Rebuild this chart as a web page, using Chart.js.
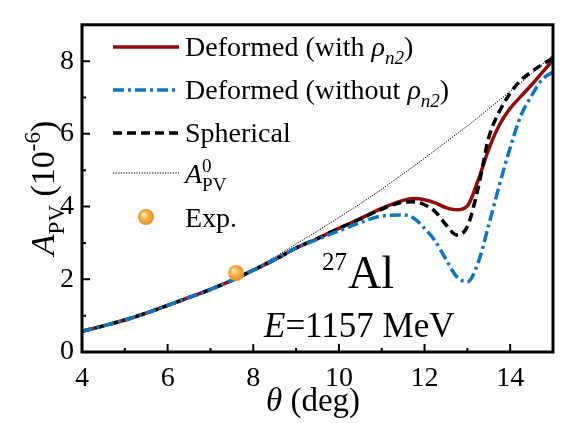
<!DOCTYPE html>
<html>
<head>
<meta charset="utf-8">
<script src="https://cdn.jsdelivr.net/npm/chart.js@4.4.1/dist/chart.umd.min.js"></script>
<style>
  html, body { margin: 0; padding: 0; background: #fff; }
  #wrap { width: 564px; height: 423px; }
</style>
</head>
<body>
<div id="wrap"><canvas id="apv" width="564" height="423"></canvas></div>
<script>
// values
const theta = [4, 4.5, 5, 5.5, 6, 6.5, 7, 7.5, 8, 8.5, 9, 9.5, 10, 10.5, 11, 11.5, 11.75,
  12, 12.25, 12.5, 12.75, 13, 13.25, 13.5, 13.75, 14, 14.25, 14.5, 14.75, 15];
const deformedWith = [0.57, 0.72, 0.88, 1.07, 1.28, 1.50, 1.72, 1.97, 2.25, 2.54, 2.86, 3.12,
  3.40, 3.67, 3.95, 4.17, 4.22, 4.19, 4.10, 3.97, 3.91, 4.02, 4.72, 5.58, 6.25, 6.70, 7.03, 7.35, 7.69, 8.03];
const deformedWithout = [0.57, 0.72, 0.88, 1.07, 1.28, 1.50, 1.72, 1.97, 2.25, 2.54, 2.86, 3.10,
  3.33, 3.56, 3.74, 3.77, 3.68, 3.40, 3.05, 2.55, 2.07, 1.93, 2.45, 3.50, 4.60, 5.62, 6.50, 7.05, 7.50, 7.70];
const spherical = [0.57, 0.72, 0.88, 1.07, 1.28, 1.50, 1.72, 1.97, 2.25, 2.54, 2.86, 3.12,
  3.40, 3.66, 3.93, 4.12, 4.13, 4.05, 3.86, 3.50, 3.22, 3.45, 4.50, 5.90, 6.62, 7.12, 7.48, 7.71, 7.91, 8.08];
const apv0 = [0.57, 0.72, 0.88, 1.07, 1.28, 1.50, 1.73, 1.99, 2.28, 2.61, 2.97, 3.33,
  3.70, 4.08, 4.48, 4.90, 5.11, 5.33, 5.55, 5.77, 6.00, 6.22, 6.45, 6.69, 6.93, 7.17, 7.41, 7.66, 7.91, 8.17];
const expTheta = [7.6];
const expA = [2.17];

const xTicks = [4, 6, 8, 10, 12, 14];
const xMinor = [5, 7, 9, 11, 13];
const yTicks = [0, 2, 4, 6, 8];
const yMinor = [1, 3, 5, 7];

const RED = '#8e0c0c';
const BLUE = '#1275b9';
const SERIF = '"Liberation Serif", "Times New Roman", serif';

const pts = (xs, ys) => xs.map((x, i) => ({ x, y: ys[i] }));

// shaded orange ball for the Exp. point
function ball(r) {
  const c = document.createElement('canvas');
  c.width = c.height = r * 2 + 2;
  const g = c.getContext('2d');
  const cx = r + 1, cy = r + 1;
  const grad = g.createRadialGradient(cx - r * 0.35, cy - r * 0.35, r * 0.1, cx, cy, r);
  grad.addColorStop(0, '#fde8b0');
  grad.addColorStop(0.45, '#f4b24a');
  grad.addColorStop(1, '#e0952c');
  g.fillStyle = grad;
  g.beginPath();
  g.arc(cx, cy, r, 0, Math.PI * 2);
  g.fill();
  return c;
}
const expBall = ball(8);

// draw text pieces: {t, it, sub, sup}
function rich(ctx, parts, x, y, size) {
  let cx = x;
  for (const p of parts) {
    const s = (p.sub || p.sup) ? size * 0.68 : size;
    const dy = p.sub ? size * 0.28 : p.sup ? -size * 0.4 : 0;
    ctx.font = (p.it ? 'italic ' : '') + s + 'px ' + SERIF;
    ctx.fillText(p.t, cx, y + dy);
    if (!p.stack) cx += ctx.measureText(p.t).width;
  }
  return cx - x;
}
function richWidth(ctx, parts, size) {
  let w = 0;
  for (const p of parts) {
    const s = (p.sub || p.sup) ? size * 0.68 : size;
    ctx.font = (p.it ? 'italic ' : '') + s + 'px ' + SERIF;
    if (!p.stack) w += ctx.measureText(p.t).width;
  }
  return w;
}

const decor = {
  id: 'decor',
  afterDatasetsDraw(chart) {
    const { ctx, chartArea: a, scales: { x, y } } = chart;
    ctx.save();
    ctx.strokeStyle = '#000';
    ctx.fillStyle = '#000';
    // inward ticks
    ctx.lineWidth = 2;
    ctx.beginPath();
    xTicks.forEach(v => { const px = x.getPixelForValue(v); ctx.moveTo(px, a.bottom); ctx.lineTo(px, a.bottom - 8); });
    xMinor.forEach(v => { const px = x.getPixelForValue(v); ctx.moveTo(px, a.bottom); ctx.lineTo(px, a.bottom - 4); });
    yTicks.forEach(v => { const py = y.getPixelForValue(v); ctx.moveTo(a.left, py); ctx.lineTo(a.left + 8, py); });
    yMinor.forEach(v => { const py = y.getPixelForValue(v); ctx.moveTo(a.left, py); ctx.lineTo(a.left + 4, py); });
    ctx.stroke();
    // frame
    ctx.lineWidth = 3;
    ctx.strokeRect(a.left, a.top, a.right - a.left, a.bottom - a.top);

    ctx.textBaseline = 'alphabetic';
    ctx.textAlign = 'left';

    // legend
    const lx0 = 113, lx1 = 179, tx = 185, f = 28;
    const rows = [
      { y: 47, color: RED, dash: [], w: 3.5,
        parts: [{ t: 'Deformed (with ' }, { t: 'ρ', it: true }, { t: 'n2', it: true, sub: true }, { t: ')' }] },
      { y: 90, color: BLUE, dash: [11, 4, 3, 4], w: 3.5,
        parts: [{ t: 'Deformed (without ' }, { t: 'ρ', it: true }, { t: 'n2', it: true, sub: true }, { t: ')' }] },
      { y: 133, color: '#000', dash: [9, 5], w: 3.5, parts: [{ t: 'Spherical' }] },
    ];
    rows.forEach(r => {
      ctx.save();
      ctx.strokeStyle = r.color;
      ctx.lineWidth = r.w;
      ctx.setLineDash(r.dash);
      ctx.beginPath();
      ctx.moveTo(lx0, r.y);
      ctx.lineTo(lx1, r.y);
      ctx.stroke();
      ctx.restore();
      rich(ctx, r.parts, tx, r.y + 9, f);
    });
    ctx.save();
    ctx.strokeStyle = '#000';
    ctx.lineWidth = 1;
    ctx.setLineDash([1.3, 1.3]);
    ctx.beginPath();
    ctx.moveTo(lx0, 173);
    ctx.lineTo(lx1, 173);
    ctx.stroke();
    ctx.restore();
    rich(ctx, [{ t: 'A', it: true }, { t: '0', sup: true, stack: true }, { t: 'PV', sub: true }], tx, 183, f);
    ctx.drawImage(expBall, 146 - expBall.width / 2, 217 - expBall.height / 2);
    rich(ctx, [{ t: 'Exp.' }], tx, 227, f);

    // annotations
    rich(ctx, [{ t: '27' }], 322, 270, 25);
    rich(ctx, [{ t: 'Al' }], 348, 288, 46);
    rich(ctx, [{ t: 'E', it: true }, { t: '=1157 MeV' }], 264, 337, 35);

    // axis titles
    const xt = [{ t: 'θ', it: true }, { t: ' (deg)' }];
    const xw = richWidth(ctx, xt, 33);
    rich(ctx, xt, 313 - xw / 2, 411, 33);

    const yt = [{ t: 'A', it: true }, { t: 'PV', sub: true }, { t: ' (10' }, { t: '-6', sup: true }, { t: ')' }];
    const yw = richWidth(ctx, yt, 34);
    ctx.translate(54, 188);
    ctx.rotate(-Math.PI / 2);
    rich(ctx, yt, -yw / 2, 0, 34);
    ctx.restore();
  }
};

const line = (data, color, dash, order) => ({
  data, borderColor: color, borderDash: dash, borderWidth: 3.5,
  pointRadius: 0, cubicInterpolationMode: 'monotone', fill: false, order,
});

new Chart(document.getElementById('apv'), {
  type: 'line',
  data: {
    datasets: [
      line(pts(theta, deformedWith), RED, [], 3),
      line(pts(theta, deformedWithout), BLUE, [11, 4, 3, 4], 1),
      line(pts(theta, spherical), '#000', [9, 5], 2),
      { data: pts(theta, apv0), borderColor: '#000', borderWidth: 1, borderDash: [1.3, 1.3],
        pointRadius: 0, cubicInterpolationMode: 'monotone', order: 4 },
      { data: pts(expTheta, expA), showLine: false, pointStyle: expBall, pointRadius: 8, order: 0 },
    ]
  },
  options: {
    responsive: false,
    animation: false,
    events: [],
    layout: { padding: { top: 10, right: 11, left: 0, bottom: 0 } },
    plugins: { legend: { display: false }, tooltip: { enabled: false } },
    scales: {
      x: {
        type: 'linear', min: 4, max: 15,
        grid: { display: false, drawTicks: false }, border: { display: false },
        afterBuildTicks: s => { s.ticks = xTicks.map(v => ({ value: v })); },
        afterFit: s => { s.height = 71; },
        ticks: { color: '#000', padding: 10, maxRotation: 0, font: { family: SERIF, size: 28 } },
      },
      y: {
        type: 'linear', min: 0, max: 9,
        grid: { display: false, drawTicks: false }, border: { display: false },
        afterBuildTicks: s => { s.ticks = yTicks.map(v => ({ value: v })); },
        afterFit: s => { s.width = 82; },
        ticks: { color: '#000', padding: 8, font: { family: SERIF, size: 28 } },
      }
    }
  },
  plugins: [decor]
});
</script>
</body>
</html>
